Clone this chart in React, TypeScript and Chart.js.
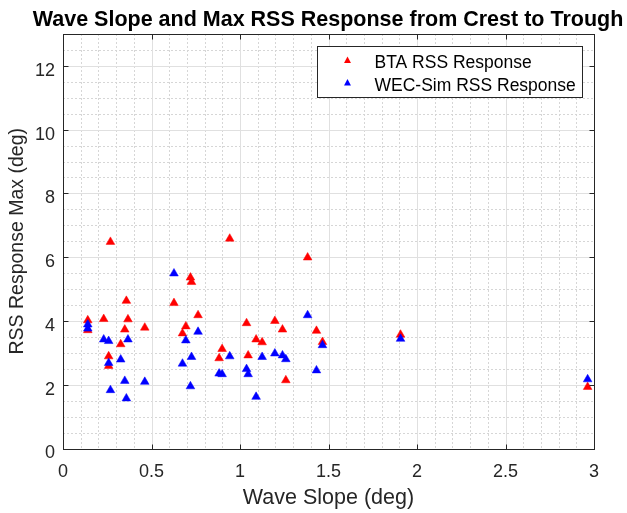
import React, { useEffect, useRef } from 'react';
import { Chart, registerables } from 'chart.js';

Chart.register(...registerables);

// ---- data ----
const waveSlope = [
  0.14, 0.14, 0.23, 0.258, 0.258, 0.268, 0.326, 0.349, 0.358, 0.367, 0.462,
  0.627, 0.675, 0.694, 0.72, 0.726, 0.763, 0.882, 0.899, 0.942,
  1.037, 1.046, 1.091, 1.125, 1.197, 1.24, 1.259, 1.382, 1.432, 1.466,
  1.907, 2.964,
];
const btaResponse = [
  4.02, 3.71, 4.06, 2.89, 2.59, 6.48, 3.27, 3.73, 4.63, 4.05, 3.79,
  4.56, 3.61, 3.83, 5.36, 5.22, 4.18, 2.83, 3.12, 6.58,
  3.93, 2.92, 3.42, 3.33, 4.0, 3.73, 2.14, 5.99, 3.69, 3.34,
  3.57, 1.93,
];
const wecSimResponse = [
  3.89, 3.76, 3.42, 3.37, 2.68, 1.83, 2.79, 2.12, 1.57, 3.42, 2.09,
  5.49, 2.66, 3.39, 1.95, 2.87, 3.66, 2.35, 2.33, 2.89,
  2.49, 2.33, 1.62, 2.87, 2.98, 2.92, 2.8, 4.18, 2.45, 3.24,
  3.44, 2.17,
];
const seriesLabels = ['BTA RSS Response', 'WEC-Sim RSS Response'];
const xTickValues = [0, 0.5, 1, 1.5, 2, 2.5, 3];
const xTickLabels = ['0', '0.5', '1', '1.5', '2', '2.5', '3'];
const yTickValues = [0, 2, 4, 6, 8, 10, 12];
const yTickLabels = ['0', '2', '4', '6', '8', '10', '12'];
const xMinorStep = 0.1;
const yMinorStep = 0.5;
const titleText = 'Wave Slope and Max RSS Response from Crest to Trough';
const xTitle = 'Wave Slope (deg)';
const yTitle = 'RSS Response Max (deg)';

const FONT = '"Liberation Sans", Arial, Helvetica, sans-serif';
const AXIS_COLOR = '#262626';

const matlabAxes = {
  id: 'matlabAxes',
  beforeDatasetsDraw(chart: any) {
    const { ctx, chartArea: a, scales } = chart;
    const xs = scales.x;
    const ys = scales.y;
    const line = (x1: number, y1: number, x2: number, y2: number) => {
      ctx.beginPath();
      ctx.moveTo(x1, y1);
      ctx.lineTo(x2, y2);
      ctx.stroke();
    };
    ctx.save();
    ctx.lineWidth = 1;
    // minor grid
    ctx.strokeStyle = '#d6d6d6';
    ctx.setLineDash([2, 2]);
    const xMax = xs.max, yMax = ys.max;
    for (let v = xMinorStep; v < xMax - 1e-9; v += xMinorStep) {
      const vv = Math.round(v * 1000) / 1000;
      if (xTickValues.some((t) => Math.abs(t - vv) < 1e-6)) continue;
      const px = Math.round(xs.getPixelForValue(vv)) + 0.5;
      line(px, a.top, px, a.bottom);
    }
    for (let v = yMinorStep; v < yMax - 1e-9; v += yMinorStep) {
      const vv = Math.round(v * 1000) / 1000;
      if (yTickValues.some((t) => Math.abs(t - vv) < 1e-6)) continue;
      const py = Math.round(ys.getPixelForValue(vv)) + 0.5;
      line(a.left, py, a.right, py);
    }
    // major grid
    ctx.setLineDash([]);
    ctx.strokeStyle = '#e0e0e0';
    xTickValues.forEach((v) => {
      const px = Math.round(xs.getPixelForValue(v)) + 0.5;
      line(px, a.top, px, a.bottom);
    });
    yTickValues.forEach((v) => {
      const py = Math.round(ys.getPixelForValue(v)) + 0.5;
      line(a.left, py, a.right, py);
    });
    ctx.restore();
  },
  afterDatasetsDraw(chart: any) {
    const { ctx, chartArea: a, scales } = chart;
    const xs = scales.x;
    const ys = scales.y;
    const L = Math.round(a.left) + 0.5;
    const R = Math.round(a.right) + 0.5;
    const T = Math.round(a.top) + 0.5;
    const B = Math.round(a.bottom) + 0.5;
    const line = (x1: number, y1: number, x2: number, y2: number) => {
      ctx.beginPath();
      ctx.moveTo(x1, y1);
      ctx.lineTo(x2, y2);
      ctx.stroke();
    };
    ctx.save();
    ctx.lineWidth = 1;
    ctx.strokeStyle = AXIS_COLOR;
    ctx.strokeRect(L, T, R - L, B - T);
    const tl = 5;
    xTickValues.forEach((v) => {
      const px = Math.round(xs.getPixelForValue(v)) + 0.5;
      line(px, B, px, B - tl);
      line(px, T, px, T + tl);
    });
    yTickValues.forEach((v) => {
      const py = Math.round(ys.getPixelForValue(v)) + 0.5;
      line(L, py, L + tl, py);
      line(R, py, R - tl, py);
    });

    // legend box (northeast)
    const bw = 265;
    const bh = 51;
    const bx = Math.round(a.right - 12 - bw) + 0.5;
    const by = Math.round(a.top + 12) + 0.5;
    ctx.fillStyle = '#ffffff';
    ctx.fillRect(bx, by, bw, bh);
    ctx.strokeStyle = AXIS_COLOR;
    ctx.strokeRect(bx, by, bw, bh);
    chart.data.datasets.forEach((ds: any, i: number) => {
      const cy = by + 14 + i * 22.6;
      const cx = bx + 30;
      const r = 4;
      ctx.fillStyle = ds.backgroundColor;
      ctx.beginPath();
      ctx.moveTo(cx, cy - r);
      ctx.lineTo(cx + r * 0.866, cy + r * 0.5 + 0.5);
      ctx.lineTo(cx - r * 0.866, cy + r * 0.5 + 0.5);
      ctx.closePath();
      ctx.fill();
      ctx.fillStyle = '#000000';
      ctx.font = `17.5px ${FONT}`;
      ctx.textAlign = 'left';
      ctx.textBaseline = 'middle';
      ctx.fillText(ds.label, bx + 57, cy + 3);
    });
    ctx.restore();
  },
};

export default function App() {
  const canvasRef = useRef<HTMLCanvasElement | null>(null);

  useEffect(() => {
    const canvas = canvasRef.current;
    if (!canvas) return;
    const tickFont = { family: FONT, size: 18 };
    const chart = new Chart(canvas, {
      type: 'scatter',
      data: {
        datasets: [
          {
            label: seriesLabels[0],
            data: waveSlope.map((x, i) => ({ x, y: btaResponse[i] })),
            backgroundColor: '#ff0000',
            borderColor: '#ff0000',
            borderWidth: 0.5,
            pointStyle: 'triangle',
            pointRadius: 5,
            order: 2,
          },
          {
            label: seriesLabels[1],
            data: waveSlope.map((x, i) => ({ x, y: wecSimResponse[i] })),
            backgroundColor: '#0000ff',
            borderColor: '#0000ff',
            borderWidth: 0.5,
            pointStyle: 'triangle',
            pointRadius: 5,
            order: 1,
          },
        ],
      },
      options: {
        responsive: false,
        animation: false,
        devicePixelRatio: 1,
        // left padding shifts the full-width title so it is centred over the plot box
        layout: { padding: { left: 29, right: 0, top: 0, bottom: 0 } },
        plugins: {
          legend: { display: false },
          tooltip: { enabled: false },
          title: {
            display: true,
            text: titleText,
            color: '#000000',
            font: { family: FONT, size: 21.5, weight: 'bold' },
            padding: { top: 7, bottom: 1.2 },
          },
        },
        scales: {
          x: {
            type: 'linear',
            min: 0,
            max: 3,
            afterBuildTicks: (s: any) => {
              s.ticks = xTickValues.map((v) => ({ value: v }));
            },
            afterFit: (s: any) => {
              s.height = 64.5;
            },
            ticks: {
              callback: (_v: any, i: number) => xTickLabels[i],
              color: AXIS_COLOR,
              font: tickFont,
              padding: 13,
              maxRotation: 0,
              autoSkip: false,
            },
            grid: { display: false, drawTicks: false },
            border: { display: false },
            title: {
              display: true,
              text: xTitle,
              color: AXIS_COLOR,
              font: { family: FONT, size: 21.5 },
              padding: { top: 0, bottom: 1.6 },
            },
          },
          y: {
            type: 'linear',
            min: 0,
            max: 13,
            afterBuildTicks: (s: any) => {
              s.ticks = yTickValues.map((v) => ({ value: v }));
            },
            afterFit: (s: any) => {
              s.width = 34;
            },
            ticks: {
              callback: (_v: any, i: number) => yTickLabels[i],
              color: AXIS_COLOR,
              font: tickFont,
              padding: 8,
              labelOffset: 5,
              autoSkip: false,
            },
            grid: { display: false, drawTicks: false },
            border: { display: false },
            title: {
              display: true,
              text: yTitle,
              color: AXIS_COLOR,
              font: { family: FONT, size: 19.5 },
              padding: { top: -22.9, bottom: 0 },
            },
          },
          yRight: {
            type: 'linear',
            position: 'right',
            min: 0,
            max: 13,
            afterFit: (s: any) => {
              s.width = 33;
            },
            ticks: { display: false },
            grid: { display: false, drawTicks: false },
            border: { display: false },
          },
        },
      } as any,
      plugins: [matlabAxes],
    });
    return () => chart.destroy();
  }, []);

  return (
    <div style={{ position: 'absolute', left: 0, top: 0, width: 627, height: 513, background: '#ffffff' }}>
      <canvas ref={canvasRef} width={627} height={513} style={{ display: 'block' }} />
    </div>
  );
}
